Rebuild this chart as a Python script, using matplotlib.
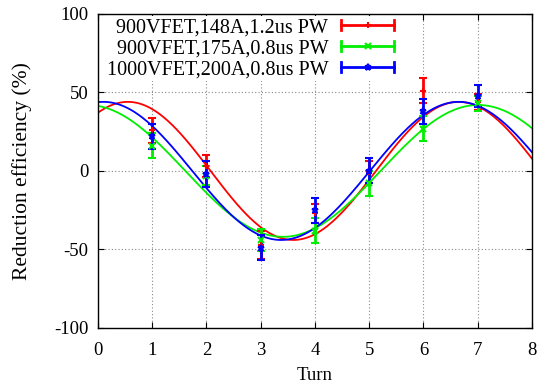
import numpy as np
import matplotlib
matplotlib.use('Agg')
import matplotlib.pyplot as plt
from matplotlib.lines import Line2D
from matplotlib.legend_handler import HandlerBase
from matplotlib.container import ErrorbarContainer

plt.rcParams['font.family'] = ['Liberation Serif', 'DejaVu Serif']
plt.rcParams['axes.unicode_minus'] = False

# measured points (turn, efficiency %, error)
turns = [1, 2, 3, 4, 5, 6, 7]
red_y = [26, 3, -47, -27, -1, 51, 44]
red_err = [8, 7, 9, 6, 7, 8, 5]
green_y = [16, -3, -44, -38, -8, 27, 43]
green_err = [8, 6, 7, 8, 8, 8, 5]
blue_y = [22, -2, -49, -25, 0, 38, 48]
blue_err = [8, 8, 8, 8, 8, 8, 7]

# sine fits: amplitude, period, position of a peak
red_fit = (44, 6.1, 0.55)
green_fit = (42, 7.2, -0.19)
blue_fit = (44, 6.55, 0.1)

labels = ['900VFET,148A,1.2us PW', '900VFET,175A,0.8us PW', '1000VFET,200A,0.8us PW']
colors = ['#ff0000', '#00ee00', '#0000ff']
markers = ['+', 'x', '*']


class HBarHandler(HandlerBase):
    # horizontal bar with end caps, like gnuplot's errorbar key sample
    def create_artists(self, legend, orig, xd, yd, w, h, fs, trans):
        line = orig[0]
        c = line.get_color()
        y = h / 2 - yd
        x0, x1 = -xd, w - xd
        cap = 3.5
        arts = [Line2D([x0, x1], [y, y], color=c, lw=2),
                Line2D([x0, x0], [y - cap, y + cap], color=c, lw=2),
                Line2D([x1, x1], [y - cap, y + cap], color=c, lw=2),
                Line2D([(x0 + x1) / 2], [y], color=c, marker=line.get_marker(),
                       ms=5, mew=1.5, ls='none')]
        for a in arts:
            a.set_transform(trans)
        return arts


fig = plt.figure(figsize=(5.4, 3.88), dpi=100)
ax = fig.add_axes([0.1815, 0.155, 0.8035, 0.809])

xs = np.linspace(0, 8, 400)
series = [(red_y, red_err, red_fit), (green_y, green_err, green_fit), (blue_y, blue_err, blue_fit)]
handles = []
for (y, err, fit), c in zip(series, colors):
    amp, per, peak = fit
    ax.plot(xs, amp * np.cos(2 * np.pi * (xs - peak) / per), color=c, lw=1.3)
for (y, err, fit), c, m, lab in zip(series, colors, markers, labels):
    h = ax.errorbar(turns, y, yerr=err, color=c, marker=m, ms=5, mew=1.5,
                    ls='none', elinewidth=2, capsize=3, capthick=2, label=lab)
    handles.append(h)

ax.set_xlim(0, 8)
ax.set_ylim(-100, 100)
ax.set_xticks(range(0, 9))
ax.set_yticks([-100, -50, 0, 50, 100])
ax.grid(True, color='#888888', ls=(0, (1, 2)), lw=0.8)
ax.tick_params(direction='in', top=True, right=True, labelsize=13.5, length=4, pad=7)
ax.tick_params(axis='x', pad=10)
for s in ax.spines.values():
    s.set_linewidth(1.0)
ax.set_xlabel('Turn', fontsize=13.5, labelpad=6)
ax.set_ylabel('Reduction efficiency (%)', fontsize=15.5, labelpad=16)

leg = ax.legend(handles=handles, loc='upper right', frameon=True, fontsize=14.5,
                markerfirst=False, handlelength=2.63, borderaxespad=0.1, borderpad=0.1,
                labelspacing=0.1, handletextpad=0.65, bbox_to_anchor=(0.692, 1.0),
                handler_map={ErrorbarContainer: HBarHandler()},
                facecolor='white', edgecolor='none', framealpha=1.0, fancybox=False)

fig.savefig('out.png', dpi=100)
